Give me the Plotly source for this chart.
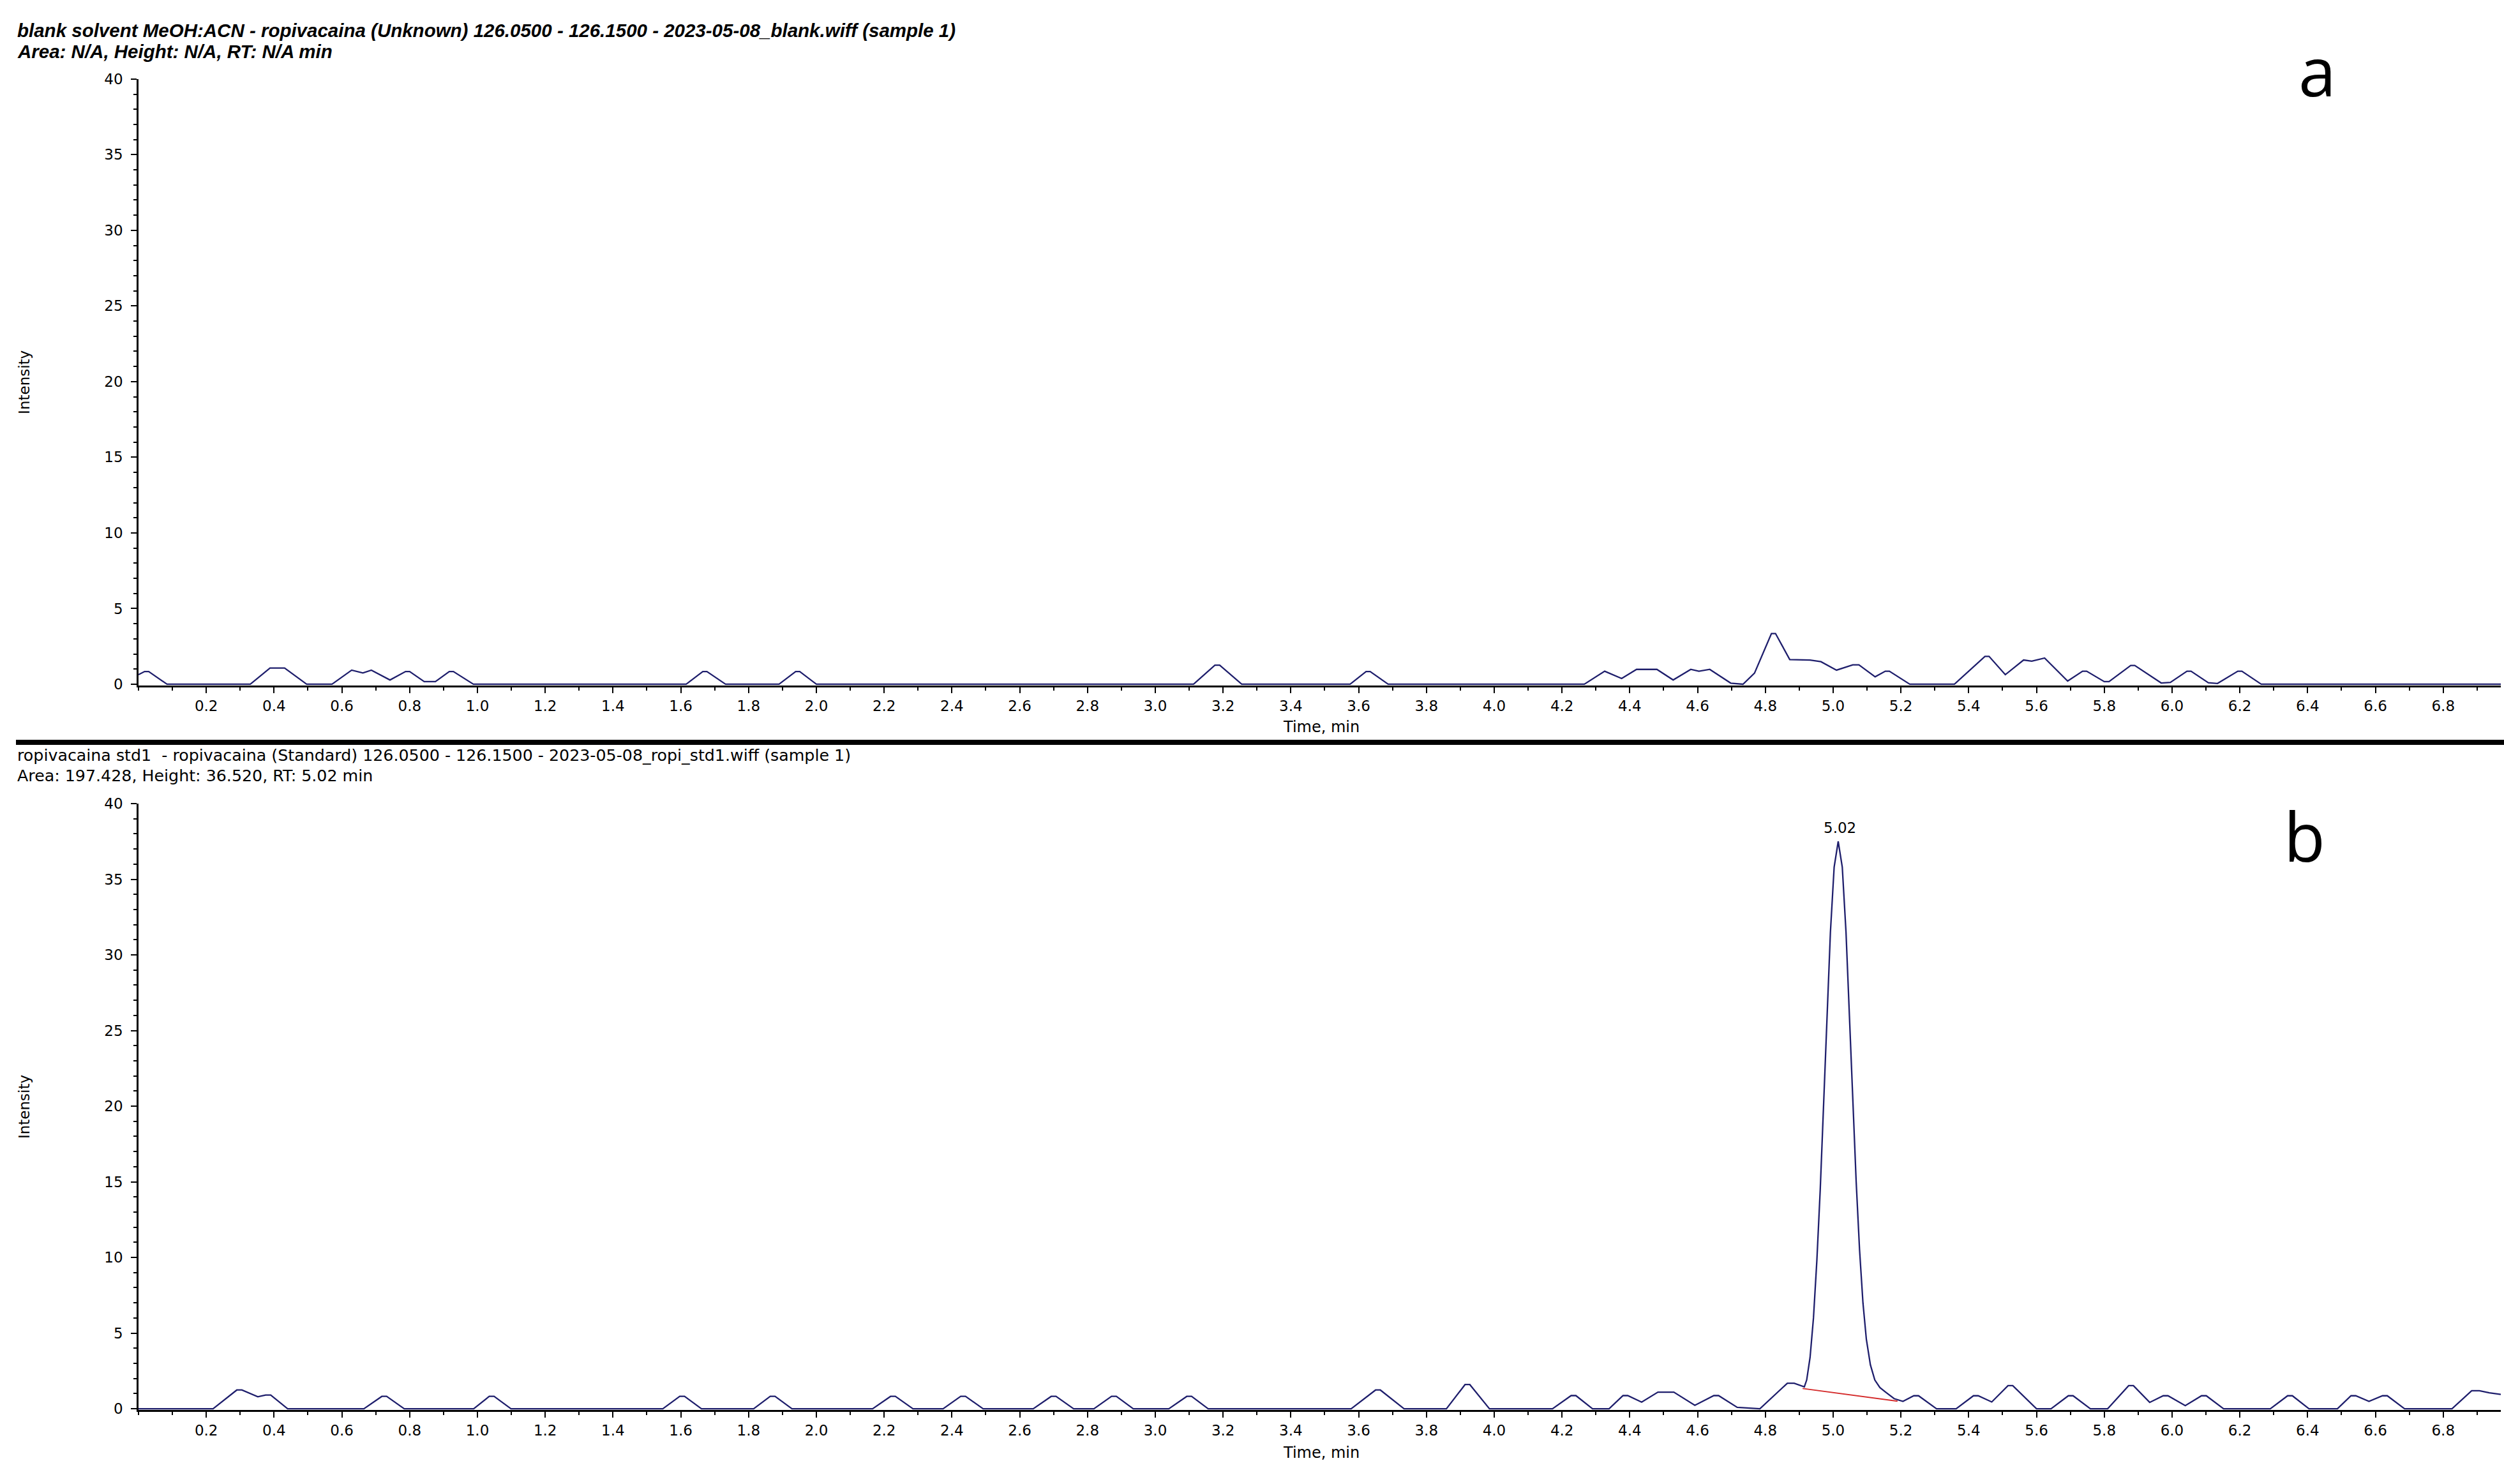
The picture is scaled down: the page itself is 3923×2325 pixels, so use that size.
import plotly.graph_objects as go

W, H = 3923, 2325

# panel a: blank solvent (time in min, intensity)
BLANK_T = [0.0, 0.018, 0.03, 0.084, 0.33, 0.388, 0.431, 0.496, 0.571, 0.629,
           0.662, 0.687, 0.742, 0.788, 0.8, 0.843, 0.876, 0.917, 0.929, 0.988,
           1.616, 1.665, 1.677, 1.732, 1.89, 1.939, 1.951, 2.0, 3.113, 3.176,
           3.19, 3.255, 3.575, 3.622, 3.634, 3.687, 4.266, 4.326, 4.376, 4.42,
           4.48, 4.528, 4.58, 4.604, 4.636, 4.698, 4.734, 4.768, 4.818, 4.83,
           4.872, 4.932, 4.964, 5.01, 5.058, 5.076, 5.124, 5.154, 5.166, 5.226,
           5.358, 5.448, 5.46, 5.508, 5.562, 5.586, 5.624, 5.692, 5.736, 5.748,
           5.8, 5.814, 5.878, 5.89, 5.968, 5.995, 6.044, 6.056, 6.107, 6.134,
           6.194, 6.206, 6.263, 6.97]
BLANK_I = [0.63, 0.84, 0.84, 0.0, 0.0, 1.07, 1.07, 0.0, 0.0, 0.93,
           0.74, 0.93, 0.28, 0.84, 0.84, 0.17, 0.17, 0.84, 0.84, 0.0,
           0.0, 0.84, 0.84, 0.0, 0.0, 0.84, 0.84, 0.0, 0.0, 1.26,
           1.26, 0.0, 0.0, 0.84, 0.84, 0.0, 0.0, 0.86, 0.38, 0.98,
           0.98, 0.28, 0.98, 0.86, 0.98, 0.07, 0.0, 0.73, 3.35, 3.35,
           1.63, 1.6, 1.49, 0.93, 1.28, 1.28, 0.49, 0.86, 0.86, 0.0,
           0.0, 1.84, 1.84, 0.63, 1.6, 1.52, 1.73, 0.21, 0.86, 0.86,
           0.17, 0.17, 1.24, 1.24, 0.08, 0.12, 0.86, 0.86, 0.1, 0.05,
           0.86, 0.86, 0.0, 0.0]

# panel b: ropivacaina std1
STD_T = [0.0, 0.22, 0.29, 0.305, 0.352, 0.375, 0.39, 0.44,
         0.665, 0.718, 0.732, 0.784,
         0.989, 1.035, 1.049, 1.099,
         1.547, 1.597, 1.611, 1.661,
         1.815, 1.864, 1.878, 1.928,
         2.166, 2.219, 2.233, 2.285,
         2.374, 2.426, 2.44, 2.492,
         2.64, 2.693, 2.707, 2.759,
         2.819, 2.871, 2.885, 2.935,
         3.04, 3.093, 3.107, 3.156,
         3.578, 3.65, 3.664, 3.734,
         3.859, 3.914, 3.928, 3.986,
         4.172, 4.227, 4.241, 4.29,
         4.339, 4.38, 4.394, 4.435, 4.483, 4.53, 4.592, 4.648, 4.662, 4.717,
         4.784, 4.865, 4.885, 4.915,
         4.922, 4.932, 4.942, 4.952, 4.962, 4.972, 4.982, 4.992, 5.003, 5.015,
         5.027, 5.038, 5.048, 5.058, 5.068, 5.078, 5.088, 5.098, 5.11, 5.123,
         5.138, 5.155, 5.18, 5.206, 5.238, 5.252, 5.305, 5.363, 5.414, 5.428,
         5.468, 5.516, 5.53, 5.6, 5.643, 5.694, 5.708, 5.759, 5.81, 5.872,
         5.886, 5.934, 5.974, 5.988, 6.039, 6.087, 6.101, 6.152, 6.29, 6.341,
         6.355, 6.404, 6.488, 6.528, 6.542, 6.581, 6.621, 6.635, 6.686, 6.826,
         6.884, 6.907, 6.936, 6.97]
STD_I = [0.0, 0.0, 1.24, 1.24, 0.79, 0.91, 0.91, 0.0,
         0.0, 0.82, 0.82, 0.0,
         0.0, 0.82, 0.82, 0.0,
         0.0, 0.82, 0.82, 0.0,
         0.0, 0.82, 0.82, 0.0,
         0.0, 0.82, 0.82, 0.0,
         0.0, 0.82, 0.82, 0.0,
         0.0, 0.82, 0.82, 0.0,
         0.0, 0.82, 0.82, 0.0,
         0.0, 0.82, 0.82, 0.0,
         0.0, 1.24, 1.24, 0.0,
         0.0, 1.6, 1.6, 0.0,
         0.0, 0.87, 0.87, 0.0,
         0.0, 0.87, 0.87, 0.44, 1.1, 1.1, 0.23, 0.87, 0.87, 0.09,
         0.0, 1.69, 1.69, 1.45,
         1.9, 3.4, 6.0, 9.8, 14.5, 20.0, 26.0, 31.5, 35.8, 37.5,
         35.8, 31.5, 26.0, 20.5, 15.0, 10.5, 7.0, 4.6, 2.9, 1.9,
         1.4, 1.1, 0.67, 0.49, 0.86, 0.86, 0.0, 0.0, 0.86, 0.86,
         0.45, 1.53, 1.53, 0.0, 0.0, 0.86, 0.86, 0.0, 0.0, 1.53,
         1.53, 0.42, 0.86, 0.86, 0.21, 0.86, 0.86, 0.0, 0.0, 0.86,
         0.86, 0.0, 0.0, 0.86, 0.86, 0.49, 0.86, 0.86, 0.0, 0.0,
         1.19, 1.19, 1.05, 0.95]

# integration baseline under the 5.02 peak
BASE_T = [4.91, 5.19]
BASE_I = [1.34, 0.5]

PEAK_RT = 5.02
PEAK_TOP = 37.5

X_TICKS = [round(0.2 * k, 1) for k in range(1, 35)]
Y_TICKS = [0, 5, 10, 15, 20, 25, 30, 35, 40]

HEAD_A = ["blank solvent MeOH:ACN - ropivacaina (Unknown) 126.0500 - 126.1500 - 2023-05-08_blank.wiff (sample 1)",
          "Area: N/A, Height: N/A, RT: N/A min"]
HEAD_B = ["ropivacaina std1  - ropivacaina (Standard) 126.0500 - 126.1500 - 2023-05-08_ropi_std1.wiff (sample 1)",
          "Area: 197.428, Height: 36.520, RT: 5.02 min"]

NAVY = "#1e1e6c"
TICK_FONT = dict(family="DejaVu Sans", size=23, color="black")


def px_x(x):
    return x / W


def px_y(y):
    return 1 - y / H


fig = go.Figure()
fig.add_trace(go.Scatter(x=BLANK_T, y=BLANK_I, mode="lines", line=dict(color=NAVY, width=2.3),
                         xaxis="x", yaxis="y", showlegend=False))
fig.add_trace(go.Scatter(x=STD_T, y=STD_I, mode="lines", line=dict(color=NAVY, width=2.3),
                         xaxis="x2", yaxis="y2", showlegend=False))
fig.add_trace(go.Scatter(x=BASE_T, y=BASE_I, mode="lines", line=dict(color="#d42a2a", width=1.8),
                         xaxis="x2", yaxis="y2", showlegend=False))

xdom = [px_x(217), px_x(3918)]
xaxis_common = dict(
    range=[0, 6.97], domain=xdom, showline=True, linecolor="black", linewidth=2.5,
    showgrid=False, zeroline=False, ticks="outside", ticklen=9, tickwidth=2, tickcolor="black",
    tickvals=X_TICKS, tickformat=".1f", tickfont=TICK_FONT, layer="below traces",
    minor=dict(dtick=0.1, tick0=0, ticks="outside", ticklen=5, tickwidth=2, tickcolor="black", showgrid=False),
)
yaxis_common = dict(
    range=[-0.1, 40], showline=True, linecolor="black", linewidth=2.5,
    showgrid=False, zeroline=False, ticks="outside", ticklen=9, tickwidth=2, tickcolor="black",
    tickvals=Y_TICKS, tickfont=TICK_FONT, layer="below traces", ticklabelstandoff=8,
    minor=dict(dtick=1, tick0=0, ticks="outside", ticklen=5, tickwidth=2, tickcolor="black", showgrid=False),
)

fig.update_layout(
    width=W, height=H, margin=dict(l=0, r=0, t=0, b=0),
    plot_bgcolor="white", paper_bgcolor="white", showlegend=False,
    xaxis=dict(anchor="y", **xaxis_common),
    yaxis=dict(anchor="x", domain=[px_y(1072.4), px_y(112)], **yaxis_common),
    xaxis2=dict(anchor="y2", **xaxis_common),
    yaxis2=dict(anchor="x2", domain=[px_y(2219.4), px_y(1259)], **yaxis_common),
)

ann = []
# headers
for txt, yy in zip(HEAD_A, [35, 68]):
    ann.append(dict(text=txt, x=px_x(25), y=px_y(yy), xref="paper", yref="paper", showarrow=False,
                    xanchor="left", yanchor="middle",
                    font=dict(family="Liberation Sans", size=29.5, color="black", weight="bold", style="italic")))
for txt, yy in zip(HEAD_B, [1183, 1215]):
    ann.append(dict(text=txt, x=px_x(25), y=px_y(yy), xref="paper", yref="paper", showarrow=False,
                    xanchor="left", yanchor="middle",
                    font=dict(family="DejaVu Sans", size=25.3, color="black")))
# axis titles
for yy in [592, 1739]:
    ann.append(dict(text="Intensity", x=px_x(38), y=px_y(yy), xref="paper", yref="paper", showarrow=False,
                    textangle=-90, xanchor="center", yanchor="middle",
                    font=dict(family="DejaVu Sans", size=23, color="black")))
for yy in [1138, 2287]:
    ann.append(dict(text="Time, min", x=px_x(2070), y=px_y(yy), xref="paper", yref="paper", showarrow=False,
                    xanchor="center", yanchor="middle",
                    font=dict(family="DejaVu Sans", size=24, color="black")))
# panel letters
ann.append(dict(text="a", x=px_x(3630), y=px_y(98), xref="paper", yref="paper", showarrow=False,
                xanchor="center", yanchor="middle", font=dict(family="Open Sans", size=106, color="black")))
ann.append(dict(text="b", x=px_x(3610), y=px_y(1310), xref="paper", yref="paper", showarrow=False,
                xanchor="center", yanchor="middle", font=dict(family="Open Sans", size=106, color="black")))
# peak label
ann.append(dict(text=f"{PEAK_RT:.2f}", x=PEAK_RT, y=PEAK_TOP, xref="x2", yref="y2", showarrow=False,
                xanchor="center", yanchor="bottom", yshift=6,
                font=dict(family="DejaVu Sans", size=23, color="black")))
fig.update_layout(annotations=ann)

# black separator bar between the panels
fig.add_shape(type="rect", xref="paper", yref="paper", x0=px_x(25), x1=1, y0=px_y(1166), y1=px_y(1158),
              fillcolor="black", line=dict(width=0))

# drop the default body margin so the figure fills the window exactly, no modebar
fig.write_html("out.html", config={"displayModeBar": False},
               post_script="document.body.style.margin='0';")
